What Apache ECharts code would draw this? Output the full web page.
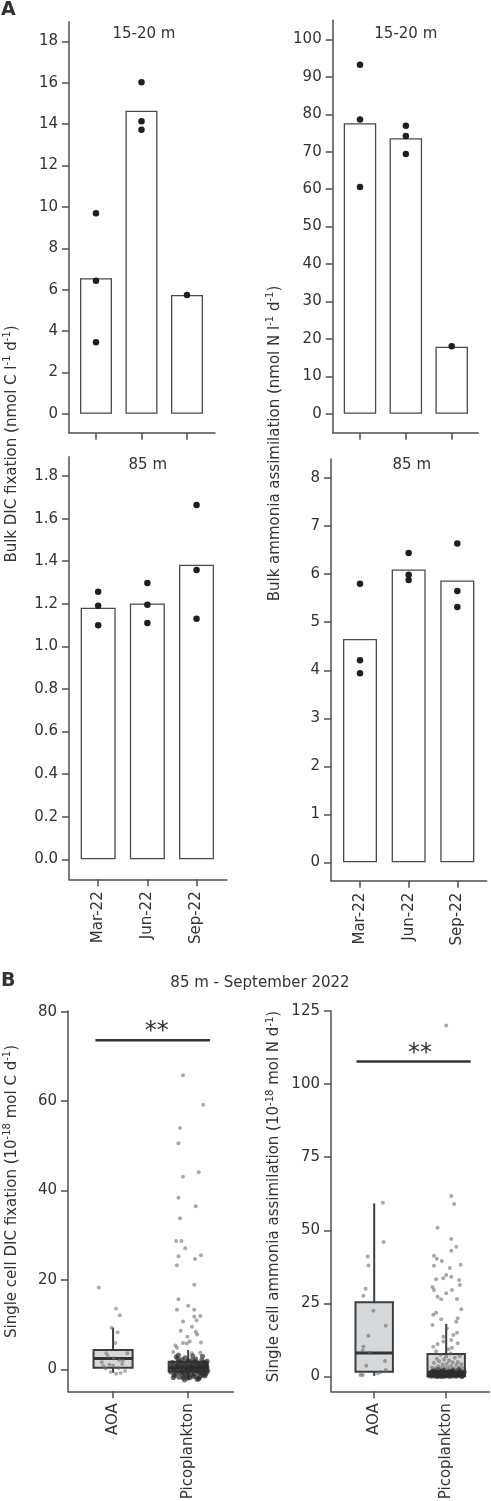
<!DOCTYPE html>
<html>
<head>
<meta charset="utf-8">
<title>Bulk and single cell DIC fixation and ammonia assimilation</title>
<script src="https://cdn.jsdelivr.net/npm/echarts@6/dist/echarts.min.js"></script>
<style>
  html, body { margin: 0; padding: 0; background: #fff; }
  #chart { width: 491px; height: 1501px; }
</style>
</head>
<body>
<div id="chart"></div>
<script>
// categories
var months = ['Mar-22', 'Jun-22', 'Sep-22'];
var groups = ['AOA', 'Picoplankton'];

// tick labels
var dicTopTicks = [0, 2, 4, 6, 8, 10, 12, 14, 16, 18];
var nh4TopTicks = [0, 10, 20, 30, 40, 50, 60, 70, 80, 90, 100];
var dicDeepTicks = [0, 0.2, 0.4, 0.6, 0.8, 1.0, 1.2, 1.4, 1.6, 1.8];
var nh4DeepTicks = [0, 1, 2, 3, 4, 5, 6, 7, 8];
var scDicTicks = [0, 20, 40, 60, 80];
var scNh4Ticks = [0, 25, 50, 75, 100, 125];

// A: bulk rates, bar = mean, dots = replicates (per month)
var dicTopMean = [6.55, 14.65, 5.74];
var dicTopReps = [[9.69, 6.43, 3.45], [16.03, 14.15, 13.73], [5.74]];
var nh4TopMean = [77.6, 73.6, 17.9];
var nh4TopReps = [[93.2, 78.6, 60.6], [76.9, 74.2, 69.4], [18.0]];
var dicDeepMean = [1.182, 1.202, 1.384];
var dicDeepReps = [[1.257, 1.191, 1.099], [1.298, 1.196, 1.110], [1.664, 1.359, 1.130]];
var nh4DeepMean = [4.65, 6.10, 5.87];
var nh4DeepReps = [[5.80, 4.21, 3.94], [6.44, 5.99, 5.88], [6.64, 5.65, 5.32]];

// B: single cell rates, boxes = [x, min, q1, median, q3, max]
var scDicBox = [[1, -0.8, 0.36, 2.4, 4.3, 9.3], [2, -2.2, -0.5, 0.3, 1.7, 4.3]];
var scNh4Box = [[1, 0.2, 1.6, 8.0, 25.4, 59.2], [2, 0.0, 0.1, 1.5, 7.7, 18.0]];
var scDicSignif = [[0.765, 73.6], [2.29, 73.6]];
var scNh4Signif = [[0.754, 107.7], [2.34, 107.7]];

// B: jittered single cells [x, rate]
var scDicAoa = [[0.81, 18.3], [1.04, 13.6], [1.09, 12.1], [0.98, 9.3], [1.06, 8.3], [1.03, 5.9], [0.91, 3.6], [1.19, 3.6],
  [0.93, 3.0], [1.01, 2.5], [1.08, 2.1], [1.13, 1.9], [0.85, 1.6], [0.95, 1.0], [1.0, 0.8], [1.07, 0.3], [1.12, 1.2],
  [1.16, -0.4], [0.97, -0.6], [1.04, -1.0], [0.87, 0.7], [1.1, -0.8], [0.9, 0.2]];
var scDicPicoSpread = [[1.93, 65.8], [2.20, 59.2], [1.89, 54.0], [1.87, 50.6], [1.93, 43.1], [2.14, 44.1], [1.87, 38.4],
  [2.10, 36.5], [1.89, 33.8], [1.84, 28.7], [1.91, 28.7], [1.96, 27.1], [1.87, 25.3], [2.17, 25.5], [2.09, 24.7],
  [1.85, 23.3], [2.08, 18.9], [1.87, 15.7], [2.0, 14.2], [1.85, 13.3], [2.08, 13.3], [2.16, 11.9], [2.08, 11.8],
  [2.11, 11.0], [1.93, 10.7], [2.05, 9.5], [1.90, 8.6], [2.10, 8.4], [2.12, 7.8], [1.99, 7.3], [2.17, 6.0], [1.93, 5.9],
  [1.98, 5.8], [1.83, 5.3], [1.85, 4.8], [2.02, 6.2], [1.80, 3.9], [2.16, 3.7], [2.05, 3.6]];
var scDicPicoCore = [[1.78, 0.4], [1.81, -1.2], [1.83, 1.1], [1.85, -0.3], [1.86, 0.9], [1.88, -1.8], [1.89, 0.2], [1.90, 1.6],
  [1.92, -0.7], [1.93, 0.6], [1.94, -1.5], [1.95, 1.3], [1.97, -0.1], [1.98, 0.8], [1.99, -2.0], [2.00, 1.9], [2.01, -0.9],
  [2.03, 0.3], [2.04, 1.4], [2.05, -1.3], [2.07, 0.7], [2.08, -0.4], [2.09, 1.8], [2.11, -1.7], [2.12, 0.1], [2.13, 1.0],
  [2.15, -0.8], [2.16, 0.5], [2.17, -1.4], [2.19, 1.2], [2.20, -0.2], [2.22, 0.9], [2.23, -1.1], [2.25, 0.4],
  [1.77, -0.6], [1.79, 1.5], [1.80, -1.9], [1.82, 0.0], [1.84, -0.9], [1.87, 1.8], [1.88, 0.6], [1.91, -0.5], [1.92, 2.2],
  [1.94, 0.3], [1.96, -1.1], [1.97, 1.5], [1.99, 0.4], [2.00, -1.6], [2.02, 0.9], [2.03, -0.3], [2.05, 2.0], [2.06, 0.2],
  [2.08, -1.0], [2.10, 0.6], [2.11, 1.5], [2.13, -0.6], [2.14, -2.1], [2.16, 1.3], [2.18, 0.0], [2.19, -0.9], [2.21, 1.6],
  [2.22, -1.5], [2.24, 0.8], [2.26, -0.4], [1.78, 1.0], [1.80, -0.1], [1.82, -1.5], [1.85, 0.7], [1.86, 2.4], [1.89, -0.9],
  [1.91, 0.9], [1.93, -1.9], [1.95, 0.0], [1.96, 2.6], [1.98, -0.6], [2.01, 0.5], [2.02, -1.9], [2.04, 0.0], [2.06, 1.1],
  [2.07, -1.6], [2.09, 0.2], [2.10, 2.3], [2.12, -0.3], [2.14, 0.8], [2.15, -1.9], [2.17, 0.3], [2.18, 2.0], [2.20, -1.2],
  [2.21, 0.1], [2.23, 1.1], [2.24, -0.8], [2.25, 1.8], [1.87, 3.2], [2.06, 3.0], [1.84, 2.8], [2.19, 2.9], [1.95, -2.4],
  [2.12, -2.3]];
var scNh4Aoa = [[1.12, 59.4], [1.13, 46.0], [0.91, 41.0], [0.92, 38.0], [0.88, 30.0], [0.85, 27.6], [0.99, 22.5], [1.16, 17.4],
  [0.92, 13.9], [0.85, 10.2], [0.84, 8.8], [0.94, 8.1], [1.15, 5.3], [0.89, 3.7], [1.16, 2.2], [0.81, 0.5], [0.84, 0.5],
  [1.05, 1.1], [1.09, 1.5]];
var scNh4PicoSpread = [[2.0, 120.0], [2.07, 61.7], [2.11, 59.0], [1.88, 50.9], [2.07, 47.0], [2.14, 44.4], [2.07, 43.0],
  [1.83, 41.3], [1.87, 40.3], [1.94, 39.5], [1.83, 37.9], [2.20, 38.2], [2.05, 37.1], [2.0, 34.7], [2.07, 34.1], [1.86, 33.3],
  [1.96, 33.6], [2.18, 33.0], [2.19, 31.3], [1.81, 30.6], [2.08, 29.6], [1.83, 29.6], [2.0, 28.5], [1.88, 27.3], [1.93, 26.4],
  [2.15, 26.5], [2.21, 23.0], [1.86, 21.8], [1.82, 21.1], [2.16, 19.9], [2.14, 18.7], [1.93, 19.6], [1.81, 17.6], [2.01, 16.5],
  [2.10, 14.2], [1.96, 13.6], [2.07, 12.5], [2.16, 11.4], [1.88, 11.1], [1.82, 10.2], [2.03, 9.3],
  [1.80, 3.0], [1.83, 4.6], [1.85, 2.8], [1.87, 6.1], [1.89, 3.5], [1.90, 5.2], [1.92, 7.4], [1.93, 2.9], [1.95, 4.1],
  [1.97, 5.8], [1.98, 3.2], [2.00, 6.8], [2.01, 4.4], [2.03, 3.0], [2.04, 5.5], [2.06, 7.9], [2.07, 3.7], [2.09, 4.9],
  [2.11, 2.7], [2.12, 6.4], [2.14, 3.9], [2.16, 5.0], [2.18, 3.1], [2.19, 7.0], [2.21, 4.2], [2.23, 2.9], [1.86, 8.6],
  [2.08, 9.8], [1.96, 12.0], [2.15, 15.0]];
var scNh4PicoCore = [[1.77, 0.3], [1.79, 1.2], [1.80, 0.1], [1.82, 0.8], [1.83, 2.0], [1.84, 0.4], [1.86, 1.5], [1.87, 0.0],
  [1.88, 0.9], [1.89, 2.3], [1.91, 0.5], [1.92, 1.7], [1.93, 0.2], [1.94, 1.1], [1.96, 0.6], [1.97, 2.1], [1.98, 0.1],
  [1.99, 1.4], [2.00, 0.7], [2.02, 0.3], [2.03, 1.9], [2.04, 0.9], [2.05, 0.0], [2.06, 1.3], [2.08, 0.5], [2.09, 2.2],
  [2.10, 0.2], [2.11, 1.6], [2.12, 0.8], [2.14, 0.1], [2.15, 1.2], [2.16, 0.4], [2.17, 2.4], [2.19, 0.7], [2.20, 1.8],
  [2.21, 0.2], [2.23, 1.0], [2.24, 0.5], [1.78, 0.7], [1.81, 1.8], [1.85, 0.2], [1.88, 1.3], [1.90, 0.1], [1.95, 1.9],
  [1.99, 0.3], [2.01, 1.1], [2.07, 1.7], [2.13, 0.6], [2.18, 1.4], [2.22, 0.0], [2.25, 1.5], [1.94, 0.0], [2.06, 0.4],
  [1.84, 1.0], [2.16, 0.9]];

var FONT = 'DejaVu Sans';
var AXIS = '#4f4f4f';
var TEXT = '#333';
var FS = 15;

function xAxisFor(g, min, max, ticks, labels) {
  return {
    type: 'value', gridIndex: g, min: min, max: max,
    axisLine: { show: true, onZero: false, lineStyle: { color: AXIS, width: 1.5 } },
    axisTick: { show: true, customValues: ticks, length: 7, lineStyle: { color: AXIS, width: 1.5 } },
    axisLabel: labels ? {
      show: true, customValues: ticks, rotate: 90, margin: 12, fontSize: FS, color: TEXT, fontFamily: FONT,
      formatter: function (v) { return labels[Math.round(v) - 1]; }
    } : { show: false },
    splitLine: { show: false }
  };
}

function yAxisFor(g, min, max, ticks, digits) {
  return {
    type: 'value', gridIndex: g, min: min, max: max,
    axisLine: { show: true, onZero: false, lineStyle: { color: AXIS, width: 1.5 } },
    axisTick: { show: true, customValues: ticks, length: 7, lineStyle: { color: AXIS, width: 1.5 } },
    axisLabel: {
      customValues: ticks, margin: 11, fontSize: FS, color: TEXT, fontFamily: FONT,
      formatter: function (v) { return v.toFixed(digits); }
    },
    splitLine: { show: false }
  };
}

function barSeries(g, means, width) {
  return {
    type: 'bar', xAxisIndex: g, yAxisIndex: g, barWidth: width, z: 2,
    data: means.map(function (v, i) { return [i + 1, v]; }),
    itemStyle: { color: '#fff', borderColor: '#4a4a4a', borderWidth: 1.3 }
  };
}

function repSeries(g, reps) {
  var pts = [];
  reps.forEach(function (list, i) {
    list.forEach(function (v) { pts.push([i + 1, v]); });
  });
  return {
    type: 'scatter', xAxisIndex: g, yAxisIndex: g, z: 3, symbolSize: 6.5,
    data: pts, itemStyle: { color: '#1f1f1f', opacity: 1 }
  };
}

function boxItem(params, api) {
  var x = api.value(0);
  var lo = api.coord([x, api.value(1)]);
  var q1 = api.coord([x, api.value(2)]);
  var md = api.coord([x, api.value(3)]);
  var q3 = api.coord([x, api.value(4)]);
  var hi = api.coord([x, api.value(5)]);
  var w = api.size([0.52, 0])[0];
  var line = { stroke: '#3d3d3d', lineWidth: 2 };
  return {
    type: 'group', children: [
      { type: 'line', shape: { x1: hi[0], y1: hi[1], x2: q3[0], y2: q3[1] }, style: line },
      { type: 'line', shape: { x1: q1[0], y1: q1[1], x2: lo[0], y2: lo[1] }, style: line },
      { type: 'rect', shape: { x: q3[0] - w / 2, y: q3[1], width: w, height: q1[1] - q3[1] },
        style: { fill: '#d5d9dc', stroke: '#3d3d3d', lineWidth: 2 } },
      { type: 'line', shape: { x1: md[0] - w / 2, y1: md[1], x2: md[0] + w / 2, y2: md[1] },
        style: { stroke: '#333', lineWidth: 3 } }
    ]
  };
}

function boxSeries(g, stats) {
  return {
    type: 'custom', xAxisIndex: g, yAxisIndex: g, z: 2, renderItem: boxItem,
    encode: { x: 0, y: [1, 2, 3, 4, 5] }, data: stats
  };
}

function cellSeries(g, pts, size, color) {
  return {
    type: 'scatter', xAxisIndex: g, yAxisIndex: g, z: 3, symbolSize: size,
    data: pts, itemStyle: { color: color }
  };
}

function signifSeries(g, pts) {
  return {
    type: 'line', xAxisIndex: g, yAxisIndex: g, z: 3, symbol: 'none', data: pts,
    lineStyle: { color: '#333', width: 2.5 }
  };
}

// superscript style for unit exponents
var richSup = { s: { fontSize: 10, lineHeight: 10, verticalAlign: 'top', fontFamily: FONT, fill: TEXT, color: TEXT } };

function label(text, x, y, size, opts) {
  opts = opts || {};
  return {
    type: 'text', x: x, y: y, rotation: opts.rotation || 0, silent: true,
    style: {
      text: text, fontSize: size, fontFamily: FONT, fontWeight: opts.bold ? 'bold' : 'normal', fill: TEXT,
      lineHeight: 19, rich: richSup,
      textAlign: opts.align || 'center', textVerticalAlign: 'middle', align: opts.align || 'center', verticalAlign: 'middle'
    }
  };
}

var chart = echarts.init(document.getElementById('chart'), null, { renderer: 'canvas' });

chart.setOption({
  animation: false,
  backgroundColor: '#fff',
  grid: [
    { left: 69, top: 21.7, width: 146, height: 411, outerBoundsMode: 'none' },
    { left: 332.7, top: 20.3, width: 145.6, height: 412.4, outerBoundsMode: 'none' },
    { left: 69, top: 456.7, width: 157.8, height: 422.6, outerBoundsMode: 'none' },
    { left: 331, top: 459, width: 155.7, height: 421.7, outerBoundsMode: 'none' },
    { left: 68, top: 1011, width: 165.3, height: 380.3, outerBoundsMode: 'none' },
    { left: 331, top: 1011, width: 158.4, height: 380.3, outerBoundsMode: 'none' }
  ],
  xAxis: [
    xAxisFor(0, 0.407, 3.615, [1, 2, 3], null),
    xAxisFor(1, 0.405, 3.58, [1, 2, 3], null),
    xAxisFor(2, 0.407, 3.615, [1, 2, 3], months),
    xAxisFor(3, 0.404, 3.604, [1, 2, 3], months),
    xAxisFor(4, 0.4, 2.6, [1, 2], groups),
    xAxisFor(5, 0.4, 2.6, [1, 2], groups)
  ],
  yAxis: [
    yAxisFor(0, -0.92, 18.96, dicTopTicks, 0),
    yAxisFor(1, -5.07, 105.1, nh4TopTicks, 0),
    yAxisFor(2, -0.094, 1.891, dicDeepTicks, 1),
    yAxisFor(3, -0.383, 8.40, nh4DeepTicks, 0),
    yAxisFor(4, -4.92, 80.16, scDicTicks, 0),
    yAxisFor(5, -5.06, 125, scNh4Ticks, 0)
  ],
  series: [
    barSeries(0, dicTopMean, 32), repSeries(0, dicTopReps),
    barSeries(1, nh4TopMean, 32.5), repSeries(1, nh4TopReps),
    barSeries(2, dicDeepMean, 35), repSeries(2, dicDeepReps),
    barSeries(3, nh4DeepMean, 34), repSeries(3, nh4DeepReps),
    boxSeries(4, scDicBox),
    cellSeries(4, scDicAoa, 4, 'rgba(110,110,110,0.7)'),
    cellSeries(4, scDicPicoSpread, 4, 'rgba(90,90,90,0.65)'),
    cellSeries(4, scDicPicoCore, 5, 'rgba(45,45,45,0.85)'),
    signifSeries(4, scDicSignif),
    boxSeries(5, scNh4Box),
    cellSeries(5, scNh4Aoa, 4, 'rgba(100,100,100,0.7)'),
    cellSeries(5, scNh4PicoSpread, 4, 'rgba(90,90,90,0.65)'),
    cellSeries(5, scNh4PicoCore, 5, 'rgba(45,45,45,0.85)'),
    signifSeries(5, scNh4Signif)
  ],
  graphic: [
    label('A', 1, 10, 19, { bold: true, align: 'left' }),
    label('B', 1, 981, 19, { bold: true, align: 'left' }),
    label('15-20 m', 144, 34, FS),
    label('15-20 m', 405.8, 34, FS),
    label('85 m', 147.8, 465, FS),
    label('85 m', 411.8, 465, FS),
    label('85 m - September 2022', 260, 983, FS),
    label('Bulk DIC fixation (nmol C l{s|-1} d{s|-1})', 12, 444, FS, { rotation: Math.PI / 2 }),
    label('Bulk ammonia assimilation (nmol N l{s|-1} d{s|-1})', 275, 443.5, FS, { rotation: Math.PI / 2 }),
    label('Single cell DIC fixation (10{s|-18} mol C d{s|-1})', 12, 1191.5, FS, { rotation: Math.PI / 2 }),
    label('Single cell ammonia assimilation (10{s|-18} mol N d{s|-1})', 274.5, 1196.5, FS, { rotation: Math.PI / 2 }),
    label('**', 156.7, 1032, 24),
    label('**', 420, 1054, 24)
  ]
});
</script>
</body>
</html>
